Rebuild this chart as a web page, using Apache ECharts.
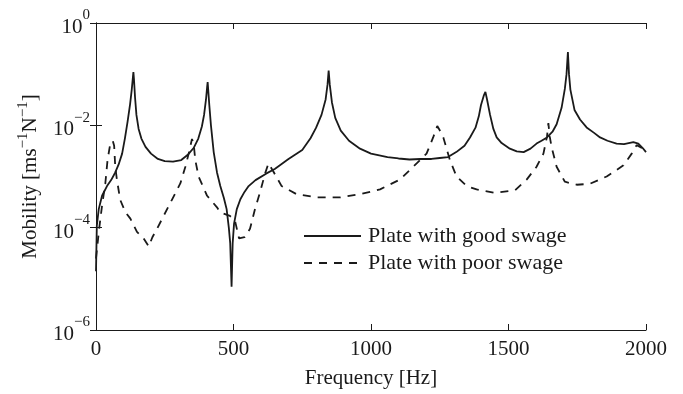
<!DOCTYPE html>
<html>
<head>
<meta charset="utf-8">
<script src="https://cdn.jsdelivr.net/npm/echarts@6/dist/echarts.min.js"></script>
<style>html,body{margin:0;padding:0;background:#fff}#c{width:683px;height:394px}</style>
</head>
<body>
<div id="c"></div>
<script>
// Frequency [Hz] and mobility [m s^-1 N^-1]
const goodFreq = [0,3,10,22,40,55,70,82,95,105,115,124,130,134,136,138,142,147,155,165,180,200,225,250,280,310,335,355,372,385,393,400,404,406,408,412,418,428,440,452,465,475,483,488,493,497,502,512,525,540,555,580,620,650,700,750,780,800,820,835,842,846,850,858,870,890,920,960,1000,1060,1100,1140,1180,1220,1250,1280,1310,1340,1360,1380,1392,1400,1410,1416,1422,1433,1445,1457,1475,1505,1530,1555,1580,1602,1620,1640,1660,1675,1693,1705,1711,1716,1720,1725,1740,1760,1784,1810,1833,1860,1893,1920,1954,1972,1988,2000];
const goodVal = [1.4e-5,1.1e-4,2.3e-4,4.2e-4,6.5e-4,8.5e-4,1.2e-3,1.7e-3,2.8e-3,5.5e-3,1.2e-2,2.6e-2,5.0e-2,0.085,0.11,0.08,0.035,0.016,8.5e-3,5.5e-3,3.8e-3,2.8e-3,2.2e-3,2.0e-3,1.95e-3,2.1e-3,2.7e-3,3.6e-3,5.5e-3,9.5e-3,1.6e-2,3.2e-2,0.055,0.07,0.05,0.025,1.0e-2,3.0e-3,1.2e-3,6.5e-4,3.8e-4,2.3e-4,1.0e-4,5.0e-5,7e-6,5.0e-5,1.2e-4,2.3e-4,3.6e-4,5.0e-4,6.5e-4,8.5e-4,1.15e-3,1.4e-3,2.2e-3,3.3e-3,5.6e-3,8.9e-3,1.6e-2,3.2e-2,0.063,0.117,0.063,0.028,1.4e-2,7.9e-3,5.0e-3,3.5e-3,2.8e-3,2.4e-3,2.25e-3,2.15e-3,2.2e-3,2.2e-3,2.3e-3,2.4e-3,3.0e-3,4.0e-3,5.8e-3,9.0e-3,1.5e-2,2.5e-2,3.8e-2,0.045,3.2e-2,1.6e-2,8.5e-3,5.8e-3,4.5e-3,3.5e-3,3.1e-3,3.0e-3,3.5e-3,4.4e-3,5.0e-3,5.8e-3,7.5e-3,1.05e-2,2.2e-2,5.2e-2,0.1,0.27,0.1,0.05,2.0e-2,1.3e-2,9.1e-3,7.2e-3,5.8e-3,5.0e-3,4.4e-3,4.3e-3,4.7e-3,4.4e-3,3.6e-3,3.0e-3];

const poorFreq = [0,5,12,22,34,42,52,61,66,70,76,88,107,125,149,173,192,205,222,246,276,307,325,337,349,355,361,373,404,440,451,487,505,520,540,560,578,596,615,627,645,675,730,803,887,960,1033,1105,1142,1166,1202,1226,1241,1250,1263,1287,1311,1348,1384,1451,1524,1566,1602,1627,1640,1645,1650,1657,1675,1705,1748,1796,1857,1918,1948,1966,1985,2000];
const poorVal = [2.5e-5,4.5e-5,1.0e-4,2.7e-4,7.4e-4,2.1e-3,4.4e-3,5.0e-3,4.0e-3,1.55e-3,8.7e-4,3.5e-4,2.0e-4,1.5e-4,8.3e-5,6.2e-5,4.3e-5,6.5e-5,9.5e-5,1.7e-4,3.5e-4,7.4e-4,1.55e-3,2.8e-3,5.4e-3,4.5e-3,2.1e-3,1.0e-3,4.2e-4,2.5e-4,2.0e-4,1.7e-4,1.4e-4,6.2e-5,6.5e-5,9.5e-5,2.3e-4,4.8e-4,1.15e-3,1.8e-3,1.25e-3,6.5e-4,4.5e-4,3.9e-4,3.9e-4,4.5e-4,5.6e-4,8.7e-4,1.35e-3,1.8e-3,2.8e-3,5.8e-3,9.7e-3,8.0e-3,5.8e-3,2.1e-3,1.0e-3,6.5e-4,5.6e-4,4.8e-4,5.4e-4,8.7e-4,1.55e-3,2.8e-3,6.0e-3,1.1e-2,6.0e-3,3.7e-3,1.55e-3,7.9e-4,6.9e-4,7.2e-4,1.0e-3,1.65e-3,2.8e-3,4.1e-3,3.6e-3,3.0e-3];

const seriesNames = ['Plate with good swage', 'Plate with poor swage'];
const xTitle = 'Frequency [Hz]';

const FONT = 'Liberation Serif';
const INK = '#1a1a1a';
const goodData = goodFreq.map((f, i) => [f, goodVal[i]]);
const poorData = poorFreq.map((f, i) => [f, poorVal[i]]);

const supFmt = v => {
  const e = Math.round(Math.log10(v));
  return '{b|10}{s|' + (e < 0 ? '\u2212' + (-e) : e) + '}';
};
const richTick = {
  b: {fontFamily: FONT, fontSize: 21, color: INK, verticalAlign: 'bottom', lineHeight: 30},
  s: {fontFamily: FONT, fontSize: 15, color: INK, verticalAlign: 'top', lineHeight: 30}
};

const chart = echarts.init(document.getElementById('c'), null, {renderer: 'canvas'});
chart.setOption({
  animation: false,
  backgroundColor: '#fff',
  grid: {left: 96, right: 37, top: 23, bottom: 57, containLabel: false},
  legend: {
    orient: 'vertical', left: 303, top: 225, itemWidth: 57, itemHeight: 14, itemGap: 5,
    padding: 0,
    itemStyle: {color: 'transparent', borderWidth: 0, opacity: 0},
    textStyle: {fontFamily: FONT, fontSize: 22, color: INK, padding: [0, 0, 0, 2]},
    data: seriesNames
  },
  xAxis: [{
    type: 'value', min: 0, max: 2000, interval: 500,
    name: xTitle, nameLocation: 'middle', nameGap: 38,
    nameTextStyle: {fontFamily: FONT, fontSize: 21, color: INK},
    axisLine: {show: true, lineStyle: {color: INK, width: 1}},
    axisTick: {show: true, inside: true, length: 6, lineStyle: {color: INK}},
    axisLabel: {fontFamily: FONT, fontSize: 21, color: INK, margin: 9, formatter: v => String(v)},
    splitLine: {show: false}
  }, {
    type: 'value', min: 0, max: 2000, interval: 500, position: 'top',
    axisLine: {show: true, lineStyle: {color: INK, width: 1}},
    axisTick: {show: true, inside: true, length: 6, lineStyle: {color: INK}},
    axisLabel: {show: false}, splitLine: {show: false}
  }],
  yAxis: [{
    type: 'log', logBase: 10, min: 1e-6, max: 1, interval: 2,
    name: 'Mobility [ms{s|\u22121}N{s|\u22121}]', nameLocation: 'middle', nameGap: 52, nameRotate: 90,
    nameTextStyle: {fontFamily: FONT, fontSize: 21, color: INK,
      rich: {s: {fontFamily: FONT, fontSize: 15, color: INK, verticalAlign: 'top', lineHeight: 28}}},
    axisLine: {show: true, lineStyle: {color: INK, width: 1}},
    axisTick: {show: true, inside: true, length: 6, lineStyle: {color: INK}},
    axisLabel: {formatter: supFmt, rich: richTick, margin: 6},
    splitLine: {show: false}, minorTick: {show: false}
  }, {
    type: 'log', logBase: 10, min: 1e-6, max: 1, interval: 2, position: 'right',
    axisLine: {show: true, lineStyle: {color: INK, width: 1}},
    axisTick: {show: true, inside: true, length: 6, lineStyle: {color: INK}},
    axisLabel: {show: false}, splitLine: {show: false}
  }],
  series: [{
    name: seriesNames[0], type: 'line', data: goodData, xAxisIndex: 0, yAxisIndex: 0,
    symbol: 'none', showSymbol: false, smooth: false,
    lineStyle: {color: INK, width: 1.8, type: 'solid'}, itemStyle: {color: INK}
  }, {
    name: seriesNames[1], type: 'line', data: poorData, xAxisIndex: 0, yAxisIndex: 0,
    symbol: 'none', showSymbol: false, smooth: false,
    lineStyle: {color: INK, width: 1.8, type: [8, 7]}, itemStyle: {color: INK}
  }]
});
</script>
</body>
</html>
